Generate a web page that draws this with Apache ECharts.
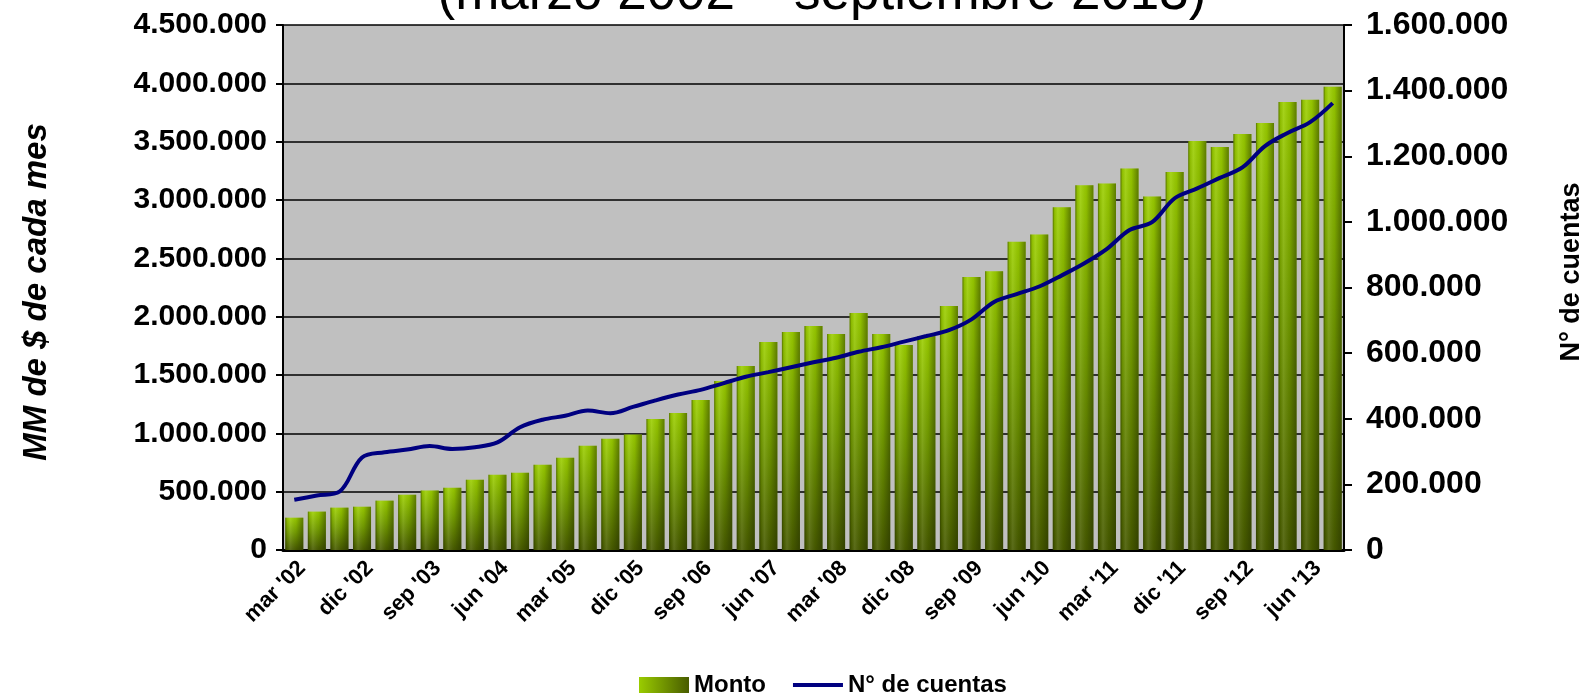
<!DOCTYPE html>
<html>
<head>
<meta charset="utf-8">
<script src="https://cdn.jsdelivr.net/npm/echarts@6/dist/echarts.min.js"></script>
<style>
html,body{margin:0;padding:0;background:#fff;}
#c{width:1588px;height:695px;}
</style>
</head>
<body>
<div id="c"></div>
<script>
const categories = [
"mar '02","jun '02","sep '02","dic '02",
"mar '03","jun '03","sep '03","dic '03",
"mar '04","jun '04","sep '04","dic '04",
"mar '05","jun '05","sep '05","dic '05",
"mar '06","jun '06","sep '06","dic '06",
"mar '07","jun '07","sep '07","dic '07",
"mar '08","jun '08","sep '08","dic '08",
"mar '09","jun '09","sep '09","dic '09",
"mar '10","jun '10","sep '10","dic '10",
"mar '11","jun '11","sep '11","dic '11",
"mar '12","jun '12","sep '12","dic '12",
"mar '13","jun '13","sep '13"];

const monto = [
277000,329000,363000,371000,
423000,474000,509000,534000,
603000,646000,663000,731000,
791000,894000,954000,990000,
1123000,1174000,1286000,1449000,
1577000,1783000,1869000,1920000,
1851000,2031000,1851000,1757000,
1834000,2091000,2340000,2390000,
2642000,2704000,2937000,3127000,
3142000,3271000,3030000,3239000,
3506000,3454000,3565000,3659000,
3841000,3859000,3971000];

const cuentas = [
153000,166000,178000,282000,
298000,306000,317000,308000,
313000,328000,374000,397000,
409000,425000,417000,436000,
456000,474000,488000,508000,
528000,542000,557000,572000,
586000,604000,618000,635000,
652000,670000,703000,756000,
780000,803000,837000,874000,
918000,975000,999000,1072000,
1102000,1134000,1166000,1231000,
1271000,1304000,1362000];

const leftTicks = {min:0, max:4500000, interval:500000};
const rightTicks = {min:0, max:1600000, interval:200000};

const titleText = "(marzo 2002 \u2013 septiembre 2013)";
const leftName = "MM de $ de cada mes";
const rightName = "N\u00b0 de cuentas";

function fmt(v){ return String(Math.round(v)).replace(/\B(?=(\d{3})+(?!\d))/g,'.'); }

const FF = "Liberation Sans, Arial, sans-serif";
const chart = echarts.init(document.getElementById('c'), null, {renderer:'canvas'});

const barGrad = new echarts.graphic.LinearGradient(0,0,0,1,[
  {offset:0,color:'#9ccf00'},
  {offset:0.45,color:'#76a000'},
  {offset:1,color:'#475a00'}
]);
const shadeGrad = new echarts.graphic.LinearGradient(0,0,1,0,[
  {offset:0,color:'rgba(30,40,0,0.55)'},
  {offset:0.1,color:'rgba(30,40,0,0.1)'},
  {offset:0.28,color:'rgba(255,255,255,0.1)'},
  {offset:0.6,color:'rgba(30,40,0,0.08)'},
  {offset:1,color:'rgba(30,40,0,0.5)'}
]);

chart.setOption({
  animation:false,
  backgroundColor:'#ffffff',
  grid:{left:283,right:244,top:25,bottom:145,show:true,backgroundColor:'#c0c0c0',borderWidth:0},
  legend:{
    left:634, top:668, itemWidth:50, itemHeight:16, itemGap:27, symbolKeepAspect:true,
    textStyle:{fontFamily:FF,fontWeight:'bold',fontSize:24,color:'#000'},
    data:[
      {name:'Monto',icon:'rect',itemStyle:{color:new echarts.graphic.LinearGradient(0,0,1,0,[{offset:0,color:'#9acc00'},{offset:1,color:'#485c00'}])}},
      {name:'N\u00b0 de cuentas',icon:'path://M0,0H50V4H0Z',itemStyle:{color:'#000080'}}
    ]
  },
  xAxis:{
    type:'category', data:categories, boundaryGap:true,
    axisLine:{lineStyle:{color:'#000',width:3}},
    axisTick:{show:false},
    axisLabel:{interval:2,rotate:45,margin:7,verticalAlign:'top',color:'#000',fontFamily:FF,fontWeight:'bold',fontSize:22}
  },
  yAxis:[
    {type:'value',min:leftTicks.min,max:leftTicks.max,interval:leftTicks.interval,position:'left',
     axisLine:{show:true,lineStyle:{color:'#000',width:2}},
     axisTick:{show:true,length:7,lineStyle:{color:'#000',width:2}},
     splitLine:{show:true,lineStyle:{color:'#000',width:1.5}},
     axisLabel:{formatter:fmt,margin:16,color:'#000',fontFamily:FF,fontWeight:'bold',fontSize:30}},
    {type:'value',min:rightTicks.min,max:rightTicks.max,interval:rightTicks.interval,position:'right',
     axisLine:{show:true,lineStyle:{color:'#000',width:2}},
     axisTick:{show:true,length:8,lineStyle:{color:'#000',width:2}},
     splitLine:{show:false},
     axisLabel:{formatter:fmt,margin:22,color:'#000',fontFamily:FF,fontWeight:'bold',fontSize:32}}
  ],
  series:[
    {name:'Monto',type:'bar',data:monto,yAxisIndex:0,barCategoryGap:'20%',
     itemStyle:{color:barGrad}},
    {name:'shade',type:'bar',data:monto,yAxisIndex:0,barGap:'-100%',barCategoryGap:'20%',silent:true,
     itemStyle:{color:shadeGrad}},
    {name:'N\u00b0 de cuentas',type:'line',data:cuentas,yAxisIndex:1,smooth:0.35,symbol:'none',
     lineStyle:{color:'#000080',width:4},itemStyle:{color:'#000080'},z:5}
  ],
  graphic:[
    {type:'text',x:822,y:-6,z:10,style:{text:titleText,font:'normal 53px '+FF,fill:'#000',textAlign:'center',textVerticalAlign:'middle',align:'center',verticalAlign:'middle'}},
    {type:'text',x:37,y:292,rotation:Math.PI/2,style:{text:leftName,font:'italic bold 33px '+FF,fill:'#000',textAlign:'center',textVerticalAlign:'middle',align:'center',verticalAlign:'middle'}},
    {type:'text',x:1572,y:272,rotation:Math.PI/2,style:{text:rightName,font:'bold 27px '+FF,fill:'#000',textAlign:'center',textVerticalAlign:'middle',align:'center',verticalAlign:'middle'}}
  ]
});
</script>
</body>
</html>
